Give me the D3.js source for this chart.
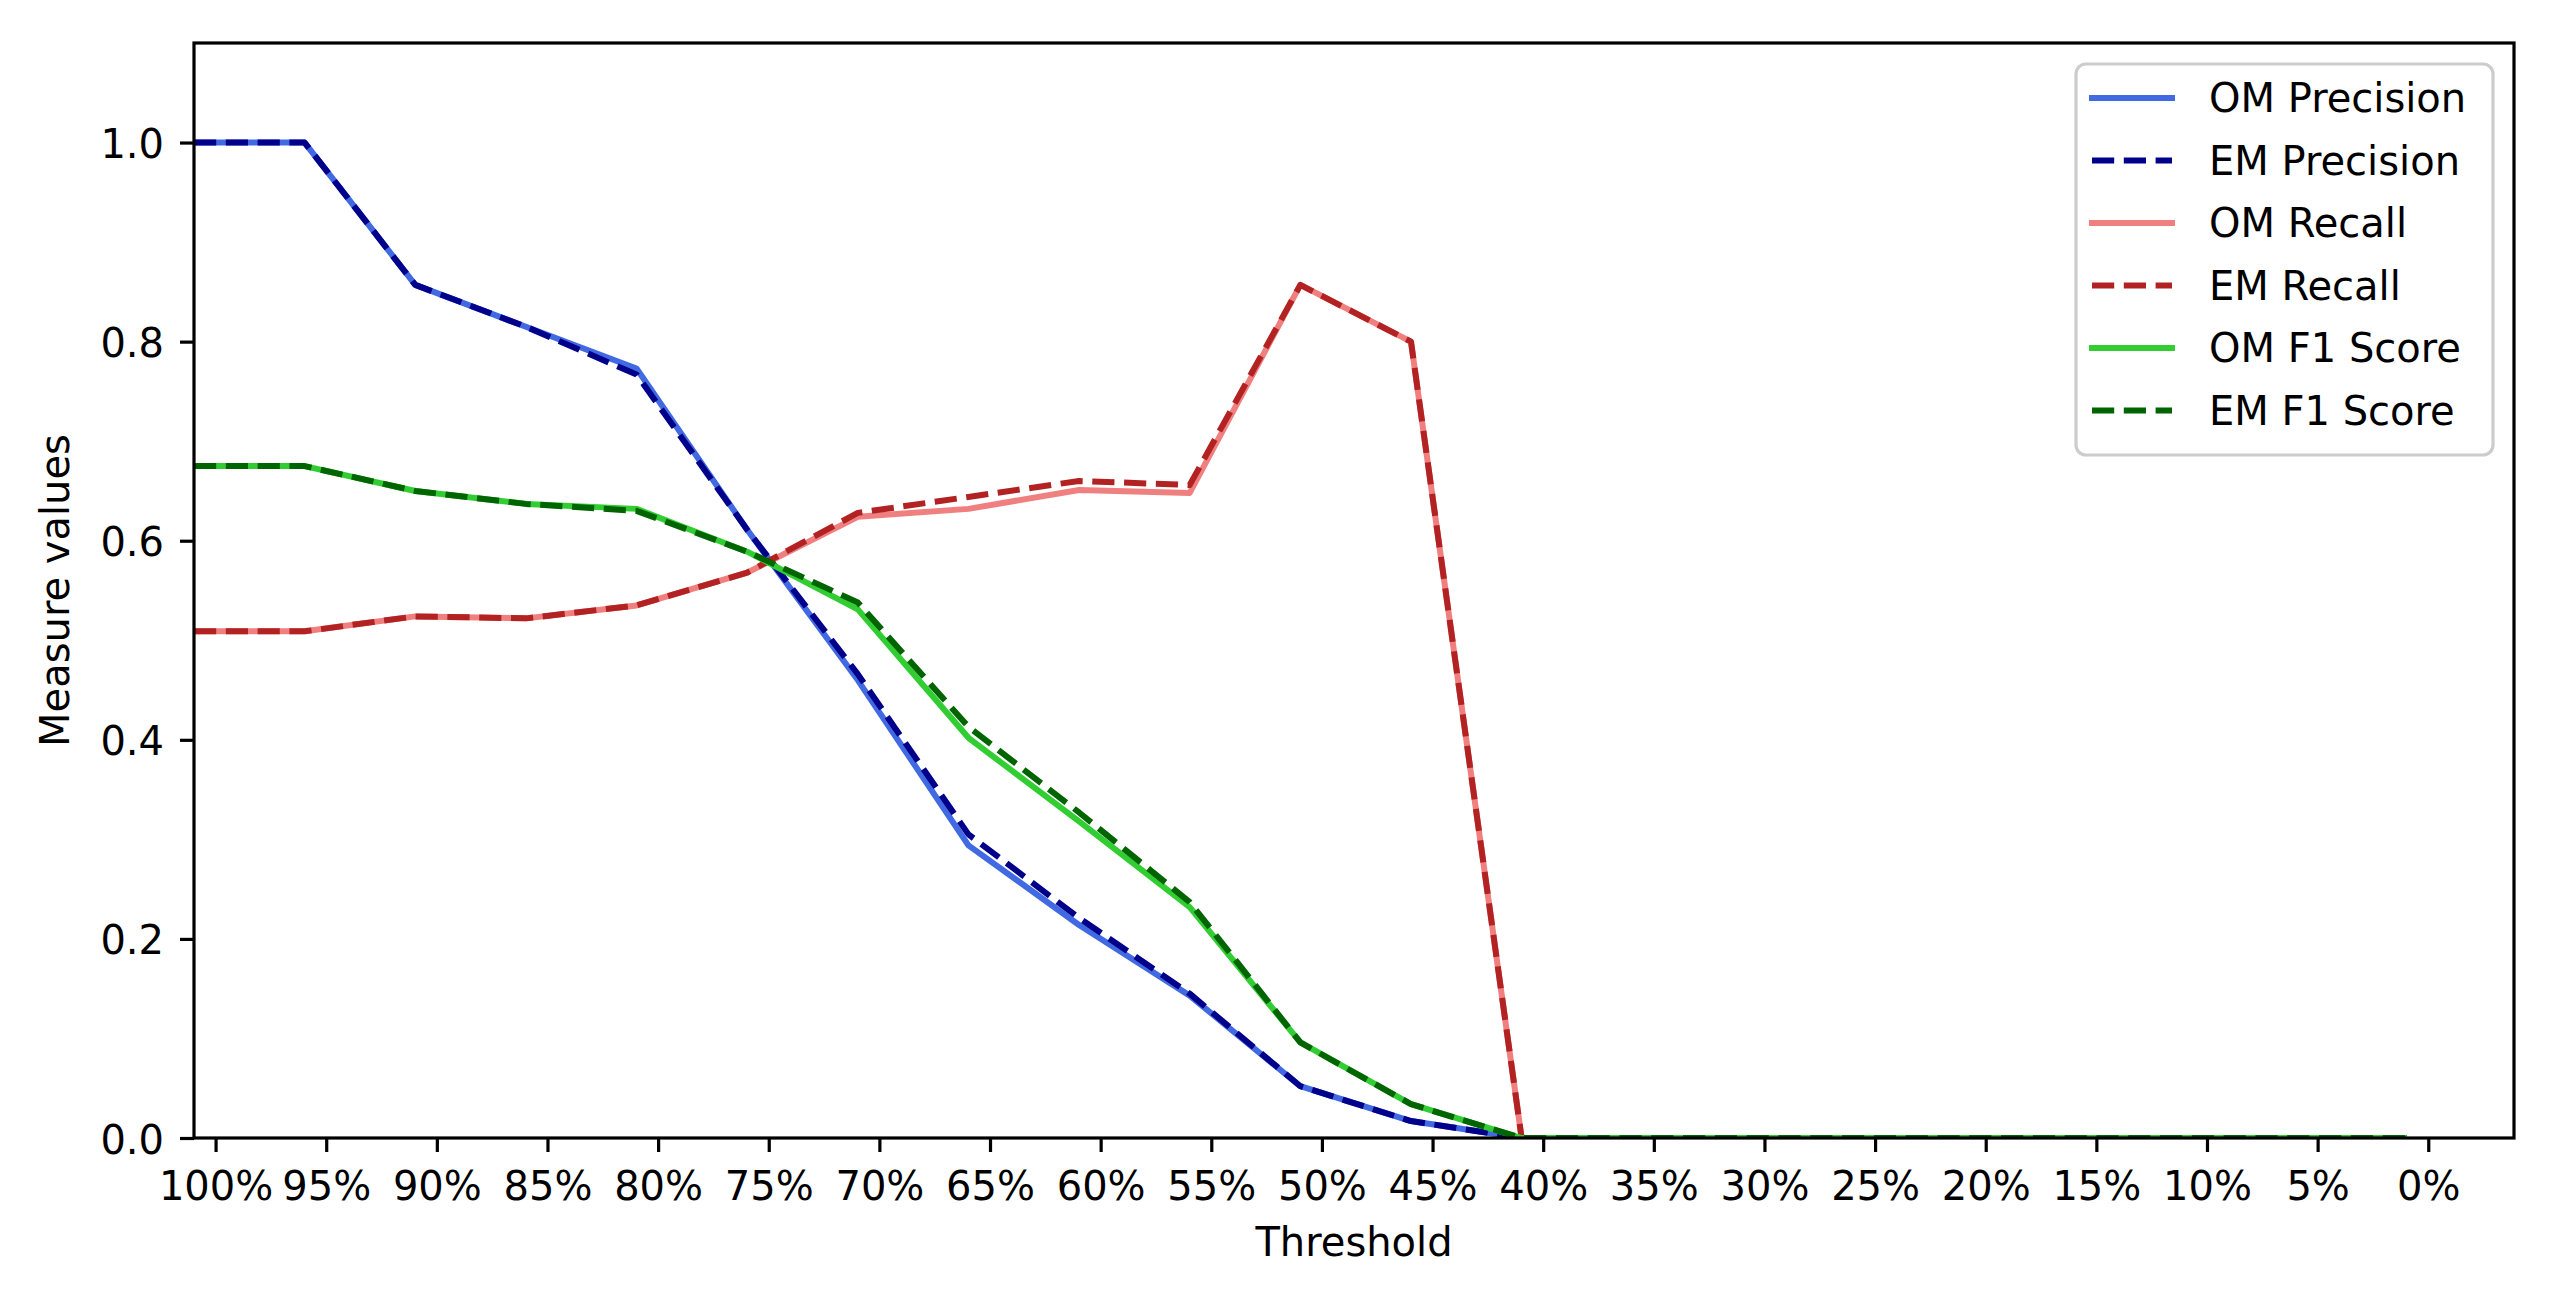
<!DOCTYPE html>
<html>
<head>
  <meta charset="utf-8">
  <script src="https://d3js.org/d3.v7.min.js"></script>

  <style>
    body {
      margin: 0;
      background: #ffffff;
    }
    text {
      font-family: "DejaVu Sans", sans-serif;
      font-size: 40px;
      fill: #000000;
    }
  </style>

  <script>
  // Threshold labels on the x axis
  var thresholds = ["100%", "95%", "90%", "85%", "80%", "75%", "70%", "65%", "60%", "55%",
                    "50%", "45%", "40%", "35%", "30%", "25%", "20%", "15%", "10%", "5%", "0%"];

  // Measure values, one per threshold
  var omPrecision = [1.0, 1.0, 0.857, 0.815, 0.773, 0.611, 0.460, 0.294, 0.214, 0.143, 0.052,
                     0.017, 0, 0, 0, 0, 0, 0, 0, 0, 0];
  var emPrecision = [1.0, 1.0, 0.857, 0.815, 0.767, 0.611, 0.466, 0.305, 0.221, 0.145, 0.052,
                     0.017, 0, 0, 0, 0, 0, 0, 0, 0, 0];
  var omRecall    = [0.509, 0.509, 0.524, 0.522, 0.535, 0.568, 0.624, 0.632, 0.651, 0.648, 0.857,
                     0.800, 0, 0, 0, 0, 0, 0, 0, 0, 0];
  var emRecall    = [0.509, 0.509, 0.524, 0.522, 0.535, 0.568, 0.628, 0.644, 0.660, 0.656, 0.857,
                     0.800, 0, 0, 0, 0, 0, 0, 0, 0, 0];
  var omF1        = [0.675, 0.675, 0.650, 0.637, 0.632, 0.589, 0.531, 0.402, 0.318, 0.232, 0.096,
                     0.034, 0, 0, 0, 0, 0, 0, 0, 0, 0];
  var emF1        = [0.675, 0.675, 0.650, 0.637, 0.630, 0.589, 0.538, 0.413, 0.327, 0.237, 0.096,
                     0.034, 0, 0, 0, 0, 0, 0, 0, 0, 0];

  var yTicks = [0.0, 0.2, 0.4, 0.6, 0.8, 1.0];

  function draw() {
    "use strict";
    var width = 2559;
    var height = 1297;
    var margin = {left: 194, right: 45, top: 43, bottom: 159};
    var plotW = width - margin.left - margin.right;
    var plotH = height - margin.top - margin.bottom;

    var svg = d3.select("body")
      .append("svg")
        .attr("width", width)
        .attr("height", height);

    var chart = svg.append("g")
        .attr("class", "chart")
        .attr("transform", "translate(" + margin.left + "," + margin.top + ")");

    // x: point index, ticks sit a bit to the right of the points
    var tickOffset = 0.195;
    var x = d3.scaleLinear().domain([0, 20.97]).range([0, plotW]);
    var y = d3.scaleLinear().domain([0, 1.1]).range([plotH, 0]);

    chart.append("clipPath")
        .attr("id", "plot-clip")
      .append("rect")
        .attr("width", plotW)
        .attr("height", plotH);

    var series = [
      {name: "OM Precision", values: omPrecision, color: "#4169e1", dashed: false},
      {name: "EM Precision", values: emPrecision, color: "#00008b", dashed: true},
      {name: "OM Recall",    values: omRecall,    color: "#f08080", dashed: false},
      {name: "EM Recall",    values: emRecall,    color: "#b22222", dashed: true},
      {name: "OM F1 Score",  values: omF1,        color: "#32cd32", dashed: false},
      {name: "EM F1 Score",  values: emF1,        color: "#006400", dashed: true}
    ];

    var line = d3.line()
      .x(function(d, i) { return x(i); })
      .y(function(d) { return y(d); });

    // the lines
    chart.append("g")
        .attr("clip-path", "url(#plot-clip)")
      .selectAll("path")
      .data(series)
      .enter().append("path")
        .attr("d", function(s) { return line(s.values); })
        .attr("fill", "none")
        .attr("stroke", function(s) { return s.color; })
        .attr("stroke-width", 6)
        .attr("stroke-linejoin", "round")
        .attr("stroke-dasharray", function(s) { return s.dashed ? "22.2,9.6" : null; });

    // x axis
    var xAxis = d3.axisBottom(x)
      .tickValues(d3.range(thresholds.length).map(function(i) { return i + tickOffset; }))
      .tickFormat(function(d, i) { return thresholds[i]; })
      .tickSize(14)
      .tickSizeOuter(0);
    var gx = chart.append("g")
        .attr("transform", "translate(0," + plotH + ")")
        .call(xAxis);
    gx.selectAll("text").attr("y", 62).attr("dy", null).style("font-size", "40px").style("font-family", "DejaVu Sans");

    // y axis
    var yAxis = d3.axisLeft(y)
      .tickValues(yTicks)
      .tickFormat(d3.format(".1f"))
      .tickSize(14)
      .tickSizeOuter(0);
    var gy = chart.append("g").call(yAxis);
    gy.selectAll("text").attr("x", -30).attr("dy", null).attr("y", 15).style("font-size", "40px").style("font-family", "DejaVu Sans");

    svg.selectAll(".tick line").attr("stroke", "#000").attr("stroke-width", 3.2);
    svg.selectAll(".domain").remove();

    // frame around the plot
    chart.append("rect")
        .attr("width", plotW)
        .attr("height", plotH)
        .attr("fill", "none")
        .attr("stroke", "#000")
        .attr("stroke-width", 3.2);

    // axis titles
    chart.append("text")
        .attr("x", plotW / 2)
        .attr("y", 1256 - margin.top)
        .attr("text-anchor", "middle")
        .text("Threshold");

    svg.append("text")
        .attr("transform", "translate(69," + (margin.top + plotH / 2) + ") rotate(-90)")
        .attr("text-anchor", "middle")
        .text("Measure values");

    // legend
    var legend = svg.append("g").attr("class", "legend");
    legend.append("rect")
        .attr("x", 2076)
        .attr("y", 64)
        .attr("width", 417)
        .attr("height", 391)
        .attr("rx", 10)
        .attr("fill", "#ffffff")
        .attr("fill-opacity", 0.8)
        .attr("stroke", "#cccccc")
        .attr("stroke-width", 3.2);

    var item = legend.selectAll("g.item")
      .data(series)
      .enter().append("g")
        .attr("class", "item")
        .attr("transform", function(s, i) { return "translate(0," + (98 + i * 62.5) + ")"; });

    item.append("line")
        .attr("x1", 2092)
        .attr("x2", 2172)
        .attr("stroke", function(s) { return s.color; })
        .attr("stroke-width", 6)
        .attr("stroke-linecap", function(s) { return s.dashed ? "butt" : "square"; })
        .attr("stroke-dasharray", function(s) { return s.dashed ? "22.2,9.6" : null; });

    item.append("text")
        .attr("x", 2209)
        .attr("y", 14)
        .text(function(s) { return s.name; });
  }
  </script>
</head>

<body>
  <script type="text/javascript">
    draw();
  </script>
</body>
</html>
